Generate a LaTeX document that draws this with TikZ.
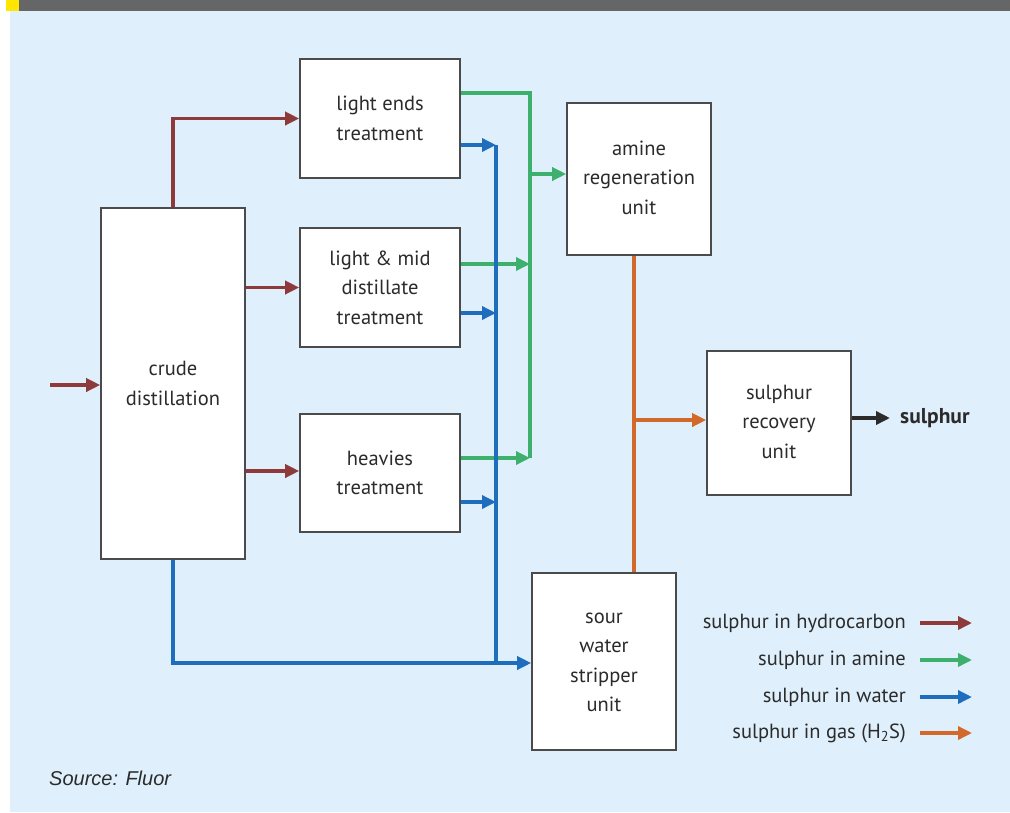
\documentclass[tikz,border=0pt]{standalone}
\usepackage{fontspec}
\setmainfont{PT Sans}
\newfontfamily\srcfont{Liberation Sans}
\usetikzlibrary{arrows.meta}
\definecolor{bgblue}{HTML}{DFF0FC}
\definecolor{barg}{HTML}{666666}
\definecolor{ylw}{HTML}{FFE500}
\definecolor{cred}{HTML}{8E3A3A}
\definecolor{cgrn}{HTML}{3DB06E}
\definecolor{cblu}{HTML}{1F6EBE}
\definecolor{corg}{HTML}{D2692A}
\definecolor{ctxt}{HTML}{2B2B2B}
\newcommand{\boxtext}[2]{\raisebox{#1}{\begin{tabular}{@{}c@{}}#2\end{tabular}}}
\tikzset{
  box/.style={draw=ctxt!85, line width=1.6pt, fill=white, align=center, text=ctxt,
    font=\fontsize{20.5}{29.5}\selectfont, inner sep=0pt},
  flow/.style={line width=3.4pt},
  tip/.style={-{Triangle[length=14pt,width=13pt]}},
  rd/.style={flow, draw=cred},
  gn/.style={flow, draw=cgrn},
  bl/.style={flow, draw=cblu},
  og/.style={flow, draw=corg},
  bk/.style={flow, draw=ctxt},
  lbl/.style={text=ctxt, font=\fontsize{20.5}{24}\selectfont, inner sep=0pt},
}
\begin{document}
\begin{tikzpicture}[x=1pt,y=-1pt]
\useasboundingbox (0,0) rectangle (1010,812);
\fill[bgblue] (10,11) rectangle (1010,812);
\fill[barg] (6,0) rectangle (1010,11);
\fill[ylw] (6,0) rectangle (19,11);

\node[box, minimum width=144pt, minimum height=351pt] (cd) at (173,383.5) {crude\\distillation};
\node[box, minimum width=160pt, minimum height=119pt] (le) at (380,118.5) {light ends\\treatment};
\node[box, minimum width=160pt, minimum height=119pt] (lm) at (380,287.5) {light \& mid\\distillate\\treatment};
\node[box, minimum width=160pt, minimum height=118pt] (hv) at (380,473) {heavies\\treatment};
\node[box, minimum width=144pt, minimum height=152pt] (am) at (639,179) {\boxtext{5pt}{amine\\regeneration\\unit}};
\node[box, minimum width=144pt, minimum height=144pt] (sr) at (779,423) {\boxtext{3pt}{sulphur\\recovery\\unit}};
\node[box, minimum width=144pt, minimum height=177pt] (sw) at (604,661.5) {\boxtext{-2pt}{sour\\water\\stripper\\unit}};

% hydrocarbon
\coordinate (in) at (50,385);
\draw[rd,tip] (in) -- (in -| cd.west);
\draw[rd,tip] (cd.north) |- (le.west);
\draw[rd,tip] (cd.east |- lm.west) -- (lm.west);
\draw[rd,tip] (cd.east |- 0,471) -- (hv.west |- 0,471);

% amine
\coordinate (gt) at (530,93);
\coordinate (gb) at (530,458);
\draw[gn] (le.east |- gt) -- (gt) -- (gb);
\draw[gn,tip] (gt |- 0,174) -- (am.west |- 0,174);
\draw[gn,tip] (lm.east |- 0,264) -- (gt |- 0,264);
\draw[gn,tip] (hv.east |- gb) -- (gb);

% water
\coordinate (bt) at (496,145);
\coordinate (bb) at (496,663);
\draw[bl] (bt) -- (bb);
\draw[bl,tip] (le.east |- bt) -- (bt);
\draw[bl,tip] (lm.east |- 0,313) -- (bt |- 0,313);
\draw[bl,tip] (hv.east |- 0,502) -- (bt |- 0,502);
\draw[bl,tip] (cd.south) |- (sw.west |- bb);

% gas
\coordinate (oj) at (634,420);
\draw[og] (am.south -| oj) -- (sw.north -| oj);
\draw[og,tip] (oj) -- (sr.west |- oj);

% product
\coordinate (so) at (890,418);
\draw[bk,tip] (sr.east |- so) -- (so);
\node[lbl, anchor=west, font=\fontsize{21.5}{24}\bfseries] (sul) at (900,418) {sulphur};

% legend
\node[lbl, anchor=east] (l1) at (906,623) {sulphur in hydrocarbon};
\node[lbl, anchor=east] (l2) at (906,660) {sulphur in amine};
\node[lbl, anchor=east] (l3) at (906,697) {sulphur in water};
\node[lbl, anchor=east] (l4) at (906,733) {sulphur in gas (H\textsubscript{2}S)};
\coordinate (a1) at (920,623); \coordinate (a2) at (920,660);
\coordinate (a3) at (920,697); \coordinate (a4) at (920,733);
\draw[rd,tip] (a1) -- ++(52,0);
\draw[gn,tip] (a2) -- ++(52,0);
\draw[bl,tip] (a3) -- ++(52,0);
\draw[og,tip] (a4) -- ++(52,0);

\node[anchor=west, inner sep=0pt, text=ctxt, font=\srcfont\itshape\fontsize{20}{22}\selectfont] (src) at (49,778) {Source: Fluor};
\end{tikzpicture}
\end{document}
